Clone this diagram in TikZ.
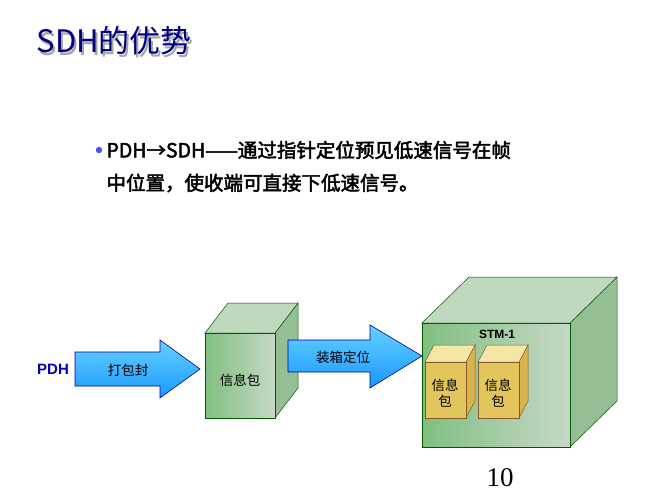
\documentclass[tikz,border=0pt]{standalone}
\usepackage{fontspec}
\setmainfont{Liberation Sans}
\newfontfamily\cjk[AutoFakeBold=2.5]{Noto Sans CJK SC}
\begin{document}
\begin{tikzpicture}[x=1pt,y=-1pt,
  arr/.style={draw=blue!60!black,line width=0.6pt,top color=cyan!70!blue!60,bottom color=cyan!55!blue!90},
  gfront/.style={draw=green!35!black,line width=0.5pt,left color=green!50!black!50,right color=green!30!black!22},
  gtop/.style={draw=green!35!black,line width=0.5pt,fill=green!40!black!25},
  gside/.style={draw=green!35!black,line width=0.5pt,fill=green!40!black!42},
  yfront/.style={draw=brown!70!black,line width=0.5pt,fill=brown!60!yellow!75},
  ytop/.style={draw=brown!70!black,line width=0.5pt,fill=yellow!55!brown!40},
  yside/.style={draw=brown!70!black,line width=0.5pt,fill=brown!70!yellow!85},
  lbl/.style={font=\cjk\fontsize{13.5}{16}\selectfont}]
\useasboundingbox (0,0) rectangle (667,500);
% title
\node[anchor=west,text=black!35,font=\cjk\fontsize{31}{33}\selectfont] (tshadow) at (35,44) {SDH的优势};
\node[anchor=west,text=blue!50!black,font=\cjk\fontsize{31}{33}\selectfont] (title) at (33,41) {SDH的优势};
% bullet
\fill[blue!70!white] (99,150) circle (3.2);
\node[anchor=west,font=\cjk\bfseries\fontsize{19.5}{22}\selectfont] (b1) at (103,150) {\textbf{PDH→SDH}——通过指针定位预见低速信号在帧};
\node[anchor=west,font=\cjk\bfseries\fontsize{19.5}{22}\selectfont] (b2) at (103,183) {中位置，使收端可直接下低速信号。};
% PDH
\node[text=blue!75!black,font=\bfseries\fontsize{15}{17}\selectfont] (pdh) at (53,369) {PDH};
% arrow 1
\draw[arr] (75,352) -- (160,352) -- (160,340) -- (200,369) -- (160,398) -- (160,386) -- (75,386) -- cycle;
\node[lbl] (a1) at (128,370) {打包封};
% box 1
\draw[gside] (275,333) -- (298,303) -- (298,388) -- (275,418) -- cycle;
\draw[gtop] (205,333) -- (228,303) -- (298,303) -- (275,333) -- cycle;
\draw[gfront] (205,333) rectangle (275,418);
\node[lbl] (p1) at (240,380) {信息包};
% arrow 2
\draw[arr] (288,340) -- (370,340) -- (370,325) -- (422,356) -- (370,388) -- (370,372) -- (288,372) -- cycle;
\node[lbl] (a2) at (343,357) {装箱定位};
% big box
\draw[gside] (570,323) -- (617,277) -- (617,401) -- (570,447) -- cycle;
\draw[gtop] (422,323) -- (469,277) -- (617,277) -- (570,323) -- cycle;
\draw[gfront] (422,323) rectangle (570,447);
\node[font=\bfseries\fontsize{12}{14}\selectfont] (stm) at (497,334) {STM-1};
% small boxes
\foreach \x/\n in {425/s1,478/s2}{
  \draw[yside] (\x+41,362) -- (\x+50,345) -- (\x+50,401) -- (\x+41,418) -- cycle;
  \draw[ytop] (\x,362) -- (\x+9,345) -- (\x+50,345) -- (\x+41,362) -- cycle;
  \draw[yfront] (\x,362) rectangle (\x+41,418);
  \node[lbl,align=center] (\n) at (\x+20,393) {信息\\包};
}
% page number
\node[font=\fontsize{27}{29}\selectfont] (pg) at (500,478) {\fontspec{Liberation Serif}10};
\end{tikzpicture}
\end{document}
